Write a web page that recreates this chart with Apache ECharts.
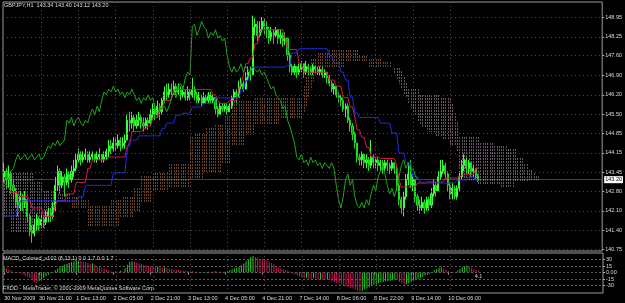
<!DOCTYPE html>
<html><head><meta charset="utf-8">
<script src="https://cdn.jsdelivr.net/npm/echarts@6/dist/echarts.min.js"></script>
<style>html,body{margin:0;padding:0;background:#000;}#c{width:625px;height:303px;}</style>
</head><body><div id="c"></div>
<script>
// ---- data (GBPJPY H1) ----
const closes = [
143.5,143.2,143.4,143.0,142.8,142.4,142.2,142.6,142.4,142.5,
141.9,141.4,141.3,141.6,141.8,141.6,141.8,141.7,141.9,142.1,
141.9,142.2,143.0,143.5,143.0,143.3,143.1,143.4,143.2,143.5,
143.6,143.9,144.1,143.9,144.0,144.1,143.9,144.0,144.1,143.9,
144.0,144.1,143.9,144.0,144.2,144.4,144.3,144.5,144.4,144.6,
144.4,144.5,144.6,145.3,145.2,145.4,145.1,145.3,145.4,145.2,
145.1,145.3,145.2,145.5,145.7,145.5,145.8,145.6,146.0,146.3,
146.2,146.4,146.3,146.5,146.3,146.4,146.2,146.3,146.1,146.3,
146.2,146.4,146.2,146.0,146.1,145.9,146.1,146.0,146.2,146.0,
146.1,145.7,145.5,145.8,145.7,145.8,145.6,145.8,146.1,146.3,
146.1,146.5,146.6,146.4,146.8,147.0,146.9,148.6,148.7,148.3,
148.5,148.8,148.6,148.5,148.2,148.4,148.3,148.5,148.2,148.3,
148.1,148.2,147.6,147.2,147.0,147.2,147.0,147.1,147.3,147.0,
147.2,147.1,147.0,147.2,147.1,147.0,147.1,146.9,147.0,146.8,
146.6,146.4,146.5,146.2,146.1,146.0,145.7,145.8,145.3,145.1,
144.8,144.5,144.0,143.9,144.1,143.8,143.9,143.7,144.0,143.8,
143.9,143.7,143.8,143.6,143.8,143.7,143.6,143.8,143.6,143.0,
142.5,142.2,142.6,143.2,143.4,143.0,143.2,142.6,142.3,142.2,
142.4,142.2,142.5,142.3,142.7,143.0,142.8,143.3,143.5,143.7,
143.4,143.0,142.7,142.9,142.6,142.9,143.3,143.7,143.9,143.6,
143.8,143.5,143.6,143.34,143.20];
const highs = [
143.8,143.6,143.7,143.5,143.2,142.9,142.7,142.8,142.7,142.8,
142.5,142.0,141.6,141.8,142.0,141.9,142.0,141.9,142.1,142.2,
142.2,142.4,143.3,143.7,143.6,143.5,143.4,143.6,143.5,143.7,
143.9,144.1,144.3,144.2,144.2,144.3,144.2,144.2,144.2,144.1,
144.2,144.3,144.1,144.2,144.3,144.6,144.6,144.7,144.7,144.8,
144.7,144.7,144.8,145.5,145.6,145.6,145.5,145.5,145.6,145.5,
145.4,145.4,145.4,145.7,145.9,145.9,146.0,145.9,146.1,146.5,
146.6,146.6,146.6,146.7,146.6,146.6,146.5,146.5,146.4,146.5,
146.4,146.8,146.5,146.3,146.3,146.2,146.3,146.2,146.3,146.3,
146.2,146.1,145.8,145.9,145.9,145.9,145.9,145.9,146.2,146.4,
146.4,146.7,146.8,146.7,147.0,147.2,147.2,149.0,148.9,148.8,
148.8,148.95,148.9,148.8,148.6,148.6,148.5,148.6,148.5,148.5,
148.4,148.4,148.2,147.7,147.3,147.3,147.2,147.3,147.4,147.3,
147.4,147.3,147.2,147.3,147.2,147.2,147.2,147.2,147.1,147.0,
146.9,146.7,146.6,146.5,146.3,146.2,146.1,145.9,145.9,145.4,
145.2,144.9,144.5,144.1,144.2,144.1,144.1,144.0,144.6,144.1,
144.0,144.0,143.9,143.9,143.9,143.9,143.8,143.9,143.8,143.7,
143.1,142.6,142.8,143.4,143.8,143.9,143.4,143.2,142.7,142.5,
142.6,142.5,142.6,142.6,142.9,143.2,143.1,143.5,143.9,143.9,
143.8,143.5,143.1,143.1,143.0,143.0,143.5,143.9,144.1,144.0,
143.9,143.8,143.7,143.6,143.40];
const lows = [
143.1,142.9,142.9,142.7,142.5,142.2,141.9,142.1,142.1,142.2,
141.7,141.2,140.97,141.2,141.4,141.4,141.5,141.5,141.6,141.7,
141.7,141.8,142.1,142.8,142.7,142.9,142.6,143.0,142.9,143.1,
143.3,143.5,143.8,143.7,143.8,143.9,143.8,143.8,143.9,143.8,
143.8,143.9,143.8,143.8,143.9,144.0,144.1,144.2,144.2,144.3,
144.2,144.3,144.3,144.6,144.9,145.0,144.9,145.0,145.1,145.0,
144.9,145.0,144.95,145.1,145.3,145.3,145.4,145.3,145.5,145.9,
146.0,146.1,146.1,146.2,146.1,146.2,146.0,146.1,146.0,146.0,
146.0,146.1,146.0,145.9,145.9,145.8,145.9,145.9,145.9,145.9,
145.9,145.5,145.4,145.5,145.6,145.6,145.5,145.6,145.7,146.0,
145.9,146.1,146.4,146.3,146.4,146.7,146.7,146.9,148.3,148.1,
148.2,148.4,148.3,148.2,148.0,148.1,148.0,148.2,148.0,148.0,
147.9,147.95,147.4,147.0,146.9,146.9,146.8,146.9,147.0,146.8,
146.9,146.9,146.9,146.9,146.95,146.9,146.9,146.8,146.8,146.6,
146.5,146.3,146.2,146.1,145.9,145.8,145.6,145.4,145.2,144.9,
144.6,144.3,143.8,143.7,143.7,143.6,143.6,143.5,143.6,143.6,
143.6,143.5,143.5,143.4,143.5,143.5,143.4,143.5,143.4,142.8,
142.3,142.0,141.9,142.5,143.0,142.9,142.8,142.4,142.1,142.0,
142.1,142.0,142.1,142.1,142.2,142.6,142.6,142.8,143.2,143.4,
143.2,142.8,142.5,142.5,142.5,142.5,142.8,143.2,143.5,143.4,
143.4,143.3,143.3,143.2,143.12];
const firstOpen = 143.3;
const tenkan = [
143.1,143.0,142.9,142.75,142.75,142.75,142.75,142.6,142.6,142.6,
142.6,142.5,142.2,142.2,142.2,142.2,142.2,141.9,141.9,141.9,
141.9,141.9,142.3,142.45,142.45,142.45,142.45,142.7,142.7,142.7,
142.7,143.1,143.1,143.1,143.1,143.1,143.6,143.6,143.9,143.9,
143.9,143.9,143.9,143.9,143.9,144.0,144.0,144.0,144.0,144.0,
144.0,144.0,144.0,144.4,144.4,144.9,144.9,144.9,144.9,144.9,
145.0,145.0,145.1,145.1,145.4,145.4,145.4,145.7,145.7,146.0,
146.0,146.0,146.0,146.37,146.39,146.39,146.39,146.39,146.39,146.39,
146.39,146.39,146.39,146.39,146.39,146.39,146.39,146.39,146.39,146.39,
146.2,146.2,146.0,145.9,145.9,145.9,145.9,146.0,146.0,146.0,
146.0,146.4,146.6,146.9,147.3,147.3,147.5,147.5,148.0,148.0,
148.4,148.5,148.5,148.5,148.5,148.5,148.5,148.5,148.5,148.5,
148.5,148.2,147.8,147.8,147.8,147.8,147.8,147.3,147.3,147.0,
147.0,147.0,147.0,147.0,147.0,147.0,147.0,147.0,147.0,147.0,
146.72,146.72,146.72,146.5,146.5,146.5,146.1,146.1,146.1,145.77,
145.77,145.4,144.96,144.96,144.7,144.7,144.35,144.35,144.0,144.0,
144.0,144.0,143.95,143.95,143.95,143.95,143.95,143.95,143.95,143.7,
143.2,142.94,142.94,142.94,142.94,142.94,142.94,142.94,143.08,143.08,
143.08,143.08,143.12,143.12,143.12,143.12,143.12,143.12,143.12,143.12,
143.26,143.26,143.26,143.26,143.26,143.26,143.26,143.37,143.37,143.37,
143.37,143.37,143.37,143.6,143.6];
const kijun = [
141.92,141.92,141.92,141.92,141.92,141.92,142.2,142.45,142.45,142.45,
142.45,142.45,142.45,142.45,142.45,142.45,142.45,142.45,142.45,142.45,
142.45,142.45,142.45,142.45,142.45,142.45,142.45,142.45,142.45,142.45,
142.45,142.45,142.6,142.6,142.6,143.0,143.0,143.0,143.0,143.0,
143.0,143.0,143.0,143.0,143.0,143.0,143.0,143.44,143.44,143.44,
143.44,143.44,143.44,144.25,144.6,144.6,144.6,144.6,144.75,144.75,
144.75,144.75,144.75,144.75,144.75,144.75,144.75,144.75,145.0,145.0,
145.2,145.2,145.2,145.2,145.48,145.48,145.48,145.55,145.55,145.55,
145.55,145.77,145.77,145.77,145.77,145.77,145.9,145.9,145.9,145.9,
145.9,146.09,146.09,146.09,146.09,146.09,146.09,146.09,146.09,146.09,
146.09,146.09,146.37,146.37,146.7,146.7,147.0,147.18,147.18,147.18,
147.18,147.18,147.18,147.18,147.18,147.18,147.18,147.18,147.18,147.18,
147.18,147.18,147.25,147.25,147.68,147.68,147.68,147.83,147.83,147.83,
147.83,147.83,147.83,147.83,147.83,147.83,147.83,147.83,147.83,147.83,
147.6,147.6,147.32,147.32,147.32,147.0,147.0,146.72,146.72,146.12,
146.12,145.56,145.56,145.4,145.4,145.4,145.4,145.4,145.4,145.4,
145.4,145.4,145.2,145.2,145.2,145.2,145.2,144.85,144.85,144.85,
144.14,144.14,144.14,143.8,143.8,143.8,143.3,143.3,143.3,143.12,
143.12,143.08,143.08,143.08,143.08,143.08,143.08,143.08,143.08,143.08,
143.08,143.08,143.08,143.08,143.08,143.19,143.19,143.19,143.19,143.19,
143.3,143.3,143.3,143.19,143.19];
const spanA = [
141.9,141.9,141.9,141.35,141.35,141.35,141.35,141.35,141.35,141.35,
141.35,141.35,141.35,141.35,141.5,141.5,141.5,141.5,141.85,141.85,
141.85,141.85,142.4,142.4,142.4,142.4,142.4,142.4,142.4,142.6,
142.6,142.6,142.6,142.6,142.48,142.48,142.48,142.25,142.25,142.25,
142.25,142.25,142.25,142.25,142.25,142.25,142.45,142.45,142.45,142.45,
142.45,142.6,142.6,142.6,142.6,142.6,142.94,142.94,142.94,143.3,
143.3,143.3,143.3,143.3,143.45,143.45,143.45,143.45,143.45,143.45,
143.45,143.8,143.8,143.8,143.8,143.8,143.8,143.8,143.8,143.8,
144.7,144.7,144.82,144.82,144.82,144.82,144.82,145.0,145.0,145.0,
145.0,145.2,145.2,145.2,145.2,145.5,145.5,145.5,146.05,146.05,
146.05,146.05,146.05,146.05,146.05,146.05,146.05,146.05,146.12,146.12,
146.12,146.12,146.12,146.12,146.12,146.12,146.12,146.12,146.12,146.15,
146.15,146.15,146.15,146.15,146.15,146.15,146.15,146.15,146.15,146.5,
146.9,147.2,147.45,147.45,147.45,147.7,147.7,147.7,147.7,147.7,
147.85,147.85,147.85,147.85,147.85,147.85,147.85,147.75,147.75,147.75,
147.75,147.75,147.75,147.6,147.6,147.6,147.6,147.5,147.5,147.5,
147.5,147.5,147.5,147.35,147.35,147.35,147.35,147.15,147.0,146.8,
146.6,146.4,146.26,146.1,145.9,145.75,145.6,145.5,145.3,145.2,
145.1,145.06,145.0,144.9,144.9,144.9,144.75,144.75,144.75,144.6,
144.6,144.6,144.45,144.45,144.45,144.2,143.6,143.35,143.2,143.2,
143.2,143.2,143.2,143.2,143.05,143.05,143.05,143.05,143.05,143.05,
143.05,143.05,143.05,143.05,142.98,142.98,142.98,142.98,142.98,142.98,
143.12,143.12,143.12,143.12,143.12,143.12,143.2,143.2,143.2,143.2,
143.4];
const spanB = [
143.44,143.44,143.44,143.44,143.44,143.44,143.44,143.44,143.44,143.44,
143.44,143.44,143.44,143.1,143.1,143.1,143.1,142.85,142.85,142.85,
142.85,142.85,142.75,142.75,142.75,142.75,142.75,142.75,142.75,142.2,
142.2,142.2,142.2,142.2,142.2,142.2,141.6,141.6,141.6,141.6,
141.6,141.6,141.6,141.6,141.6,141.6,141.6,141.6,141.6,141.6,
141.9,141.9,141.9,141.9,141.9,141.9,142.1,142.1,142.1,142.45,
142.45,142.45,142.45,142.45,142.8,142.8,142.8,142.8,142.8,142.8,
142.8,142.95,142.95,142.95,142.95,142.95,142.95,142.95,142.95,142.95,
143.25,143.25,143.25,143.25,143.25,143.25,143.5,143.5,143.5,143.5,
143.5,143.5,143.5,143.5,143.75,143.75,143.75,143.75,144.4,144.4,
144.4,144.4,144.4,144.4,144.8,144.8,144.8,144.8,145.15,145.15,
145.15,145.15,145.15,145.15,145.15,145.15,145.15,145.15,145.15,145.4,
145.4,145.4,145.4,145.4,145.4,145.4,145.4,145.4,145.4,145.6,
145.8,146.1,146.4,146.7,147.15,147.15,147.15,147.15,147.15,147.15,
147.15,147.15,147.15,147.15,147.15,147.15,147.15,147.36,147.36,147.36,
147.36,147.36,147.36,147.36,147.36,147.36,147.36,147.22,147.22,147.22,
147.22,147.22,147.22,147.22,147.22,147.22,147.22,147.18,147.18,147.18,
147.18,147.08,146.9,146.6,146.45,146.45,146.45,146.45,146.45,146.26,
146.26,146.26,146.26,146.26,146.26,146.26,146.26,146.26,146.1,146.1,
146.1,146.1,146.1,145.9,145.6,145.3,144.7,144.7,144.7,144.7,
144.7,144.7,144.7,144.7,144.7,144.55,144.55,144.55,144.55,144.55,
144.55,144.45,144.45,144.45,144.45,144.45,144.45,144.25,144.25,144.25,
144.25,144.0,144.0,144.0,143.8,143.8,143.6,143.6,143.44,143.3,
143.2];
const macd = [
12,10,7,5,2,0,-1,-2,-5,-8,
-10,-13,-18,-22,-24,-20,-16,-12,-8,-5,
-2,1,5,9,12,15,18,20,22,24,
26,27,28,27,25,24,22,20,21,18,
15,13,11,9,7,5,3,2,3,2,
4,3,10,18,25,26,25,23,21,20,
18,17,15,14,13,12,14,12,11,12,
10,9,8,7,6,6,5,4,4,4,
3,3,2,2,1,1,0,1,2,1,
2,3,1,2,1,2,3,5,7,9,
11,13,17,21,26,30,35,37.8,36,34,
32,31,30,28,25,22,19,15,12,10,
8,6,4,2,-2,-4,-6,-9,-11,-13,
-12,-14,-15,-13,-14,-16,-15,-16,-17,-16,
-18,-20,-22,-24,-25,-27,-29,-31,-33,-35,
-37,-39,-42,-44,-43,-40,-37,-34,-31,-28,
-26,-25,-23,-22,-21,-20,-19,-18,-17,-18,
-22,-25,-28,-27,-25,-22,-20,-18,-15,-12,
-10,-7,-5,-3,2,5,8,11,12,9,
7,4,1,-1,0,4,8,12,15,16,
14,11,8,6,4.1];
const priceTicks = [148.95,148.25,147.60,146.90,146.20,145.50,144.85,144.15,143.45,142.80,142.10,141.40,140.75];
const macdTicks = [37.8,30,15,0,-15,-30,-40];
const macdGrid = [30,15,0,-15,-30];
const timeLabels = ['30 Nov 2009','30 Nov 21:00','1 Dec 13:00','2 Dec 05:00','2 Dec 21:00','3 Dec 13:00','4 Dec 05:00','4 Dec 21:00','7 Dec 14:00','8 Dec 06:00','8 Dec 22:00','9 Dec 14:00','10 Dec 06:00'];
const lastPrice = 143.20;
const lastMacd = '4.1';
const titleText = 'GBPJPY,H1  143.34 143.40 143.12 143.20';
const macdTitle = 'MACD_Colored_v102 (8,13,1) 0.0 1.7 0.0 1.7';
const footText = 'FXDD - MetaTrader, \u00a9 2001-2009 MetaQuotes Software Corp.';
const chikouShift = 26;
const totalBars = 258;
const firstLabelBar = 15, labelStep = 16;

// ---- build ----
const cats = [], labelText = [];
for (let i = 0; i < totalBars; i++) { cats.push(String(i)); labelText.push(''); }
labelText[0] = timeLabels[0];
const gridBars = [];
for (let k = 1; k < timeLabels.length; k++) {
  const b = firstLabelBar + labelStep * (k - 1);
  labelText[b] = timeLabels[k];
  gridBars.push(b + 1);
}
const ohlc = closes.map((c, i) => [i === 0 ? firstOpen : closes[i - 1], c, lows[i], highs[i]]);
const chikou = closes.slice(chikouShift);
const cloud = spanA.map((a, i) => [i, a, spanB[i]]);
const macdData = macd.map((v, i) => {
  const up = i === 0 ? true : v > macd[i - 1];
  const item = { value: v, itemStyle: { color: up ? '#1fd41f' : '#d0185a' } };
  if (i === macd.length - 1) item.label = { show: true, position: 'bottom', distance: 1, formatter: lastMacd, color: '#cfcfcf', fontSize: 5.5, fontFamily: 'Liberation Sans' };
  return item;
});

const FONT = 'Liberation Sans';
const txt = { color: '#dcdcdc', fontSize: 5.5, fontFamily: FONT, fontWeight: 'normal' };
const gridLine = { color: '#584646', width: 1, type: [1, 3] };

const chart = echarts.init(document.getElementById('c'), null, { renderer: 'canvas' });
chart.setOption({
  backgroundColor: '#000',
  animation: false,
  title: [
    { text: titleText, left: 4, top: 2, padding: 0, textStyle: txt },
    { text: macdTitle, left: 3, top: 255.5, padding: 0, textStyle: txt },
    { text: footText, left: 3, top: 285.5, padding: 0, textStyle: txt }
  ],
  grid: [
    { left: 3, top: 2, width: 600, height: 249, show: true, borderColor: '#9a9a9a', borderWidth: 1, backgroundColor: 'transparent' },
    { left: 3, top: 253, width: 600, height: 40, show: true, borderColor: '#9a9a9a', borderWidth: 1, backgroundColor: 'transparent' }
  ],
  xAxis: [
    { type: 'category', gridIndex: 0, data: cats, boundaryGap: true,
      axisLine: { show: false }, axisTick: { show: false }, axisLabel: { show: false }, splitLine: { show: false } },
    { type: 'category', gridIndex: 1, data: cats, boundaryGap: true,
      axisLine: { show: false },
      axisTick: { show: true, alignWithLabel: true, interval: (i) => labelText[i] !== '', length: 2, lineStyle: { color: '#aaa' } },
      axisLabel: { interval: (i) => labelText[i] !== '', formatter: (v) => labelText[+v], align: 'left', margin: 2.5, ...txt },
      splitLine: { show: false } }
  ],
  yAxis: [
    { type: 'value', gridIndex: 0, position: 'right', min: 140.68, max: 149.48,
      axisLine: { show: false }, splitLine: { show: false },
      axisTick: { show: true, customValues: priceTicks, length: 2, lineStyle: { color: '#aaa' } },
      axisLabel: { customValues: priceTicks, formatter: (v) => v.toFixed(2), margin: 3, ...txt } },
    { type: 'value', gridIndex: 1, position: 'right', min: -47.3, max: 45,
      axisLine: { show: false }, splitLine: { show: false },
      axisTick: { show: true, customValues: macdTicks, length: 2, lineStyle: { color: '#aaa' } },
      axisLabel: { customValues: macdTicks, formatter: (v) => v === 0 ? '0.00' : String(v), margin: 3, ...txt } }
  ],
  series: [
    { name: 'grid', type: 'line', xAxisIndex: 0, yAxisIndex: 0, data: [], z: 0, silent: true,
      markLine: { silent: true, symbol: 'none', animation: false, label: { show: false }, lineStyle: gridLine,
        data: priceTicks.map(v => ({ yAxis: v })).concat(gridBars.map(b => ({ xAxis: b }))) } },
    { name: 'grid2', type: 'line', xAxisIndex: 1, yAxisIndex: 1, data: [], z: 0, silent: true,
      markLine: { silent: true, symbol: 'none', animation: false, label: { show: false },
        lineStyle: { color: '#5e5e5e', width: 1, type: [2, 2] },
        data: macdGrid.map(v => ({ yAxis: v })).concat(gridBars.map(b => ({ xAxis: b, lineStyle: gridLine }))) } },
    { name: 'cloud', type: 'custom', xAxisIndex: 0, yAxisIndex: 0, data: cloud, z: 2, silent: true,
      encode: { x: 0, y: [1, 2] },
      renderItem: (params, api) => {
        const i = api.value(0), a = api.value(1), b = api.value(2);
        const pa = api.coord([i, a]), pb = api.coord([i, b]);
        const x = Math.round(pa[0]) + 0.5;
        const top = Math.min(pa[1], pb[1]), bot = Math.max(pa[1], pb[1]);
        const y1 = Math.ceil(top / 3) * 3 - 0.5;
        return { type: 'line', shape: { x1: x, y1: y1, x2: x, y2: bot + 0.5 },
          style: { stroke: a >= b ? '#d2884c' : '#c4b2c4', lineWidth: 1, lineDash: [1, 2] } };
      } },
    { name: 'price', type: 'candlestick', xAxisIndex: 0, yAxisIndex: 0, data: ohlc, z: 3, barWidth: 1.6,
      itemStyle: { color: '#00e600', color0: '#00a800', borderColor: '#3cff3c', borderColor0: '#22d822', borderWidth: 1 },
      markLine: { silent: true, symbol: 'none', animation: false, z: 1,
        lineStyle: { color: '#5a3c2c', width: 1, type: 'solid' },
        label: { show: true, position: 'end', distance: 2, formatter: lastPrice.toFixed(2), color: '#000', backgroundColor: '#fff', padding: [1, 1, 0, 1], fontSize: 5.5, fontFamily: FONT },
        data: [{ yAxis: lastPrice }] } },
    { name: 'tenkan', type: 'line', xAxisIndex: 0, yAxisIndex: 0, data: tenkan, z: 4, showSymbol: false, silent: true,
      lineStyle: { color: '#d81848', width: 1 } },
    { name: 'kijun', type: 'line', xAxisIndex: 0, yAxisIndex: 0, data: kijun, z: 4, showSymbol: false, silent: true,
      lineStyle: { color: '#1e2ee0', width: 1 } },
    { name: 'chikou', type: 'line', xAxisIndex: 0, yAxisIndex: 0, data: chikou, z: 4, showSymbol: false, silent: true,
      lineStyle: { color: '#1aa81a', width: 1 } },
    { name: 'macd', type: 'bar', xAxisIndex: 1, yAxisIndex: 1, data: macdData, z: 3, barWidth: 1, silent: true }
  ]
});
</script></body></html>
